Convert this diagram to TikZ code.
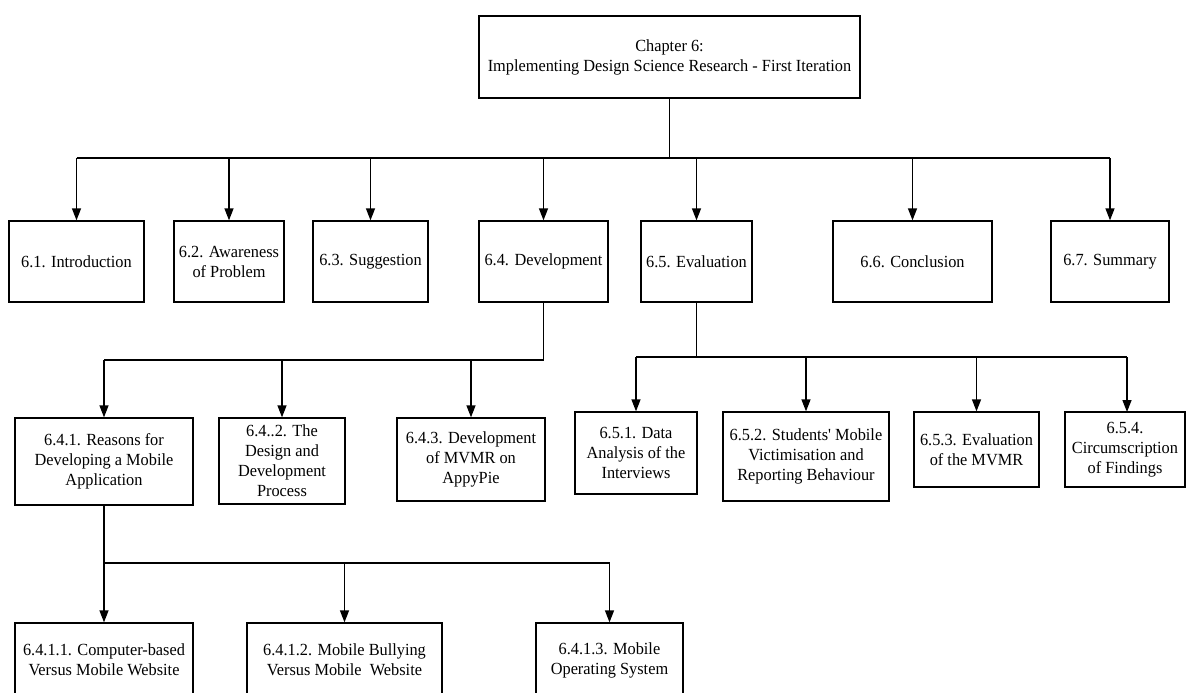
\documentclass[tikz,border=0pt]{standalone}
\usepackage{fontspec}
\setmainfont{Liberation Serif}[FakeStretch=0.96, Ligatures=TeXOff]
\usetikzlibrary{arrows.meta}

\tikzset{
  box/.style={draw=black, line width=1.3pt, fill=white, align=center,
              inner sep=0pt, font=\fontsize{17}{20}\selectfont},
  link/.style={draw=black, line width=1.3pt},
  arr/.style={link, -{Triangle[length=12pt,width=9pt]}},
}

\begin{document}
\begin{tikzpicture}[x=1pt,y=-1pt]
\clip (0,0) rectangle (1186,693);
\fill[white] (0,0) rectangle (1186,693);

% chapter box
\node[box, minimum width=381, minimum height=82] (top) at (669.5,57)
  {Chapter 6:\\Implementing Design Science Research - First Iteration};

% sections
\node[box, minimum width=135, minimum height=81] (p61) at (76.5,261.5) {6.1. Introduction};
\node[box, minimum width=110, minimum height=81] (p62) at (229,261.5) {6.2. Awareness\\of Problem};
\node[box, minimum width=115, minimum height=81] (p63) at (370.5,261.5) {6.3. Suggestion};
\node[box, minimum width=129, minimum height=81] (p64) at (543.5,261.5) {6.4. Development};
\node[box, minimum width=111, minimum height=81] (p65) at (696.5,261.5) {6.5. Evaluation};
\node[box, minimum width=159, minimum height=81] (p66) at (912.5,261.5) {6.6. Conclusion};
\node[box, minimum width=118, minimum height=81] (p67) at (1110,261.5) {6.7. Summary};

% subsections of 6.4
\node[box, minimum width=178, minimum height=87] (p641) at (104,461.5)
  {6.4.1. Reasons for\\Developing a Mobile\\Application};
\node[box, minimum width=126, minimum height=86] (p642) at (282,461)
  {6.4..2. The\\Design and\\Development\\Process};
\node[box, minimum width=148, minimum height=83] (p643) at (471,459.5)
  {6.4.3. Development\\of MVMR on\\AppyPie};

% subsections of 6.5
\node[box, minimum width=122, minimum height=82] (p651) at (636,453)
  {6.5.1. Data\\Analysis of the\\Interviews};
\node[box, minimum width=166, minimum height=89] (p652) at (806,456.5)
  {6.5.2. Students' Mobile\\Victimisation and\\Reporting Behaviour};
\node[box, minimum width=125, minimum height=75] (p653) at (976.5,449.5)
  {6.5.3. Evaluation\\of the MVMR};
\node[box, minimum width=120, minimum height=75] (p654) at (1125,449.5)
  {6.5.4.\\Circumscription\\of Findings};

% subsections of 6.4.1
\node[box, minimum width=178, minimum height=74] (p6411) at (104,660)
  {6.4.1.1. Computer-based\\Versus Mobile Website};
\node[box, minimum width=195, minimum height=74] (p6412) at (344.5,660)
  {6.4.1.2. Mobile Bullying\\Versus Mobile\ \ Website};
\node[box, minimum width=147, minimum height=74] (p6413) at (609.5,660)
  {6.4.1.3. Mobile\\Operating System};

% junction points of the trees
\coordinate (b1) at (669.5,158);
\coordinate (b2) at (543.5,360);
\coordinate (b3) at (696.5,357);
\coordinate (b4) at (104,563);
\coordinate (t654) at (1127,412);

% chapter -> sections
\draw[link] (top.south) -- (b1);
\draw[link] (p61.north |- b1) -- (p67.north |- b1);
\foreach \n in {p61,p62,p63,p64,p65,p66,p67}
  \draw[arr] (\n.north |- b1) -- (\n.north);

% 6.4 -> subsections
\draw[link] (p64.south) -- (b2);
\draw[link] (p641.north |- b2) -- (b2);
\foreach \n in {p641,p642,p643}
  \draw[arr] (\n.north |- b2) -- (\n.north);

% 6.5 -> subsections
\draw[link] (p65.south) -- (b3);
\draw[link] (p651.north |- b3) -- (t654 |- b3);
\foreach \n in {p651,p652,p653}
  \draw[arr] (\n.north |- b3) -- (\n.north);
\draw[arr] (t654 |- b3) -- (t654);

% 6.4.1 -> subsections
\draw[link] (p641.south) -- (b4);
\draw[link] (b4) -- (p6413.north |- b4);
\foreach \n in {p6411,p6412,p6413}
  \draw[arr] (\n.north |- b4) -- (\n.north);
\end{tikzpicture}
\end{document}
